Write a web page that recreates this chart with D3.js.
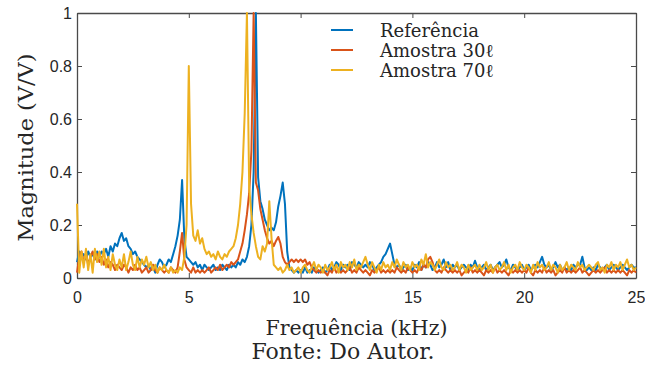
<!DOCTYPE html>
<html>
<head>
<meta charset="utf-8">
<script src="https://cdn.jsdelivr.net/npm/d3@7"></script>
<style>
  body { margin: 0; background: #fff; }
  .tick text { font-family: "Liberation Sans", Arial, sans-serif; font-size: 16px; fill: #262626; }
  .serif { font-family: "DejaVu Serif", serif; fill: #262626; }
</style>
</head>
<body>
<svg id="chart"></svg>
<script>
// spectrum sampled every 0.1 kHz, 0 .. 25 kHz
const freqStep = 0.1;

const seriesNames = ["Referência", "Amostra 30ℓ", "Amostra 70ℓ"];

const referencia = [
  0.06, 0.10, 0.08, 0.09, 0.07, 0.10, 0.08, 0.09, 0.07, 0.10,
  0.08, 0.10, 0.09, 0.11, 0.08, 0.12, 0.10, 0.13, 0.12, 0.15,
  0.17, 0.14, 0.15, 0.12, 0.11, 0.09, 0.10, 0.08, 0.07, 0.06,
  0.05, 0.04, 0.05, 0.03, 0.04, 0.02, 0.05, 0.07, 0.06, 0.04,
  0.05, 0.07, 0.06, 0.09, 0.12, 0.16, 0.22, 0.37, 0.15, 0.08,
  0.07, 0.06, 0.05, 0.06, 0.04, 0.05, 0.03, 0.05, 0.04, 0.03,
  0.04, 0.05, 0.03, 0.04, 0.03, 0.05, 0.04, 0.03, 0.05, 0.04,
  0.05, 0.04, 0.06, 0.05, 0.07, 0.06, 0.08, 0.12, 0.20, 0.40,
  1.00, 0.38, 0.29, 0.26, 0.22, 0.20, 0.18, 0.19, 0.18, 0.21,
  0.27, 0.31, 0.36, 0.28, 0.10, 0.04, 0.03, 0.02, 0.03, 0.02,
  0.03, 0.02, 0.04, 0.02, 0.03, 0.02, 0.04, 0.03, 0.02, 0.03,
  0.04, 0.02, 0.03, 0.05, 0.03, 0.04, 0.06, 0.05, 0.03, 0.05,
  0.04, 0.05, 0.03, 0.06, 0.05, 0.04, 0.06, 0.05, 0.04, 0.05,
  0.04, 0.06, 0.05, 0.03, 0.04, 0.05, 0.06, 0.08, 0.09, 0.11,
  0.13, 0.09, 0.05, 0.04, 0.05, 0.03, 0.04, 0.05, 0.03, 0.04,
  0.03, 0.05, 0.04, 0.06, 0.03, 0.05, 0.04, 0.06, 0.05, 0.03,
  0.04, 0.06, 0.04, 0.05, 0.07, 0.04, 0.06, 0.03, 0.05, 0.04,
  0.05, 0.03, 0.04, 0.05, 0.04, 0.03, 0.05, 0.04, 0.065, 0.04,
  0.03, 0.04, 0.05, 0.03, 0.04, 0.05, 0.03, 0.04, 0.05, 0.06,
  0.04, 0.05, 0.07, 0.04, 0.03, 0.05, 0.04, 0.03, 0.04, 0.05,
  0.03, 0.04, 0.05, 0.03, 0.04, 0.05, 0.04, 0.06, 0.08, 0.05,
  0.04, 0.05, 0.03, 0.04, 0.06, 0.04, 0.05, 0.03, 0.04, 0.03,
  0.04, 0.03, 0.05, 0.04, 0.05, 0.05, 0.08, 0.04, 0.03, 0.04,
  0.03, 0.04, 0.03, 0.05, 0.04, 0.03, 0.04, 0.05, 0.03, 0.04,
  0.05, 0.04, 0.03, 0.04, 0.05, 0.04, 0.03, 0.04, 0.05, 0.04,
  0.04
];

const amostra30 = [
  0.02, 0.08, 0.10, 0.06, 0.09, 0.05, 0.08, 0.10, 0.07, 0.09,
  0.06, 0.08, 0.05, 0.07, 0.04, 0.06, 0.05, 0.03, 0.05, 0.04,
  0.03, 0.05, 0.04, 0.02, 0.04, 0.03, 0.05, 0.03, 0.04, 0.02,
  0.03, 0.04, 0.02, 0.03, 0.05, 0.03, 0.02, 0.04, 0.03, 0.02,
  0.03, 0.02, 0.04, 0.03, 0.02, 0.04, 0.10, 0.17, 0.07, 0.04,
  0.03, 0.02, 0.04, 0.02, 0.03, 0.02, 0.03, 0.02, 0.03, 0.04,
  0.02, 0.03, 0.04, 0.03, 0.05, 0.03, 0.04, 0.05, 0.04, 0.06,
  0.05, 0.06, 0.07, 0.10, 0.13, 0.18, 0.24, 0.32, 0.48, 1.00,
  0.36, 0.33, 0.26, 0.22, 0.18, 0.15, 0.13, 0.14, 0.12, 0.14,
  0.155, 0.13, 0.08, 0.06, 0.05, 0.06, 0.07, 0.06, 0.07, 0.06,
  0.07, 0.06, 0.07, 0.05, 0.06, 0.04, 0.03, 0.02, 0.03, 0.02,
  0.03, 0.02, 0.01, 0.03, 0.02, 0.04, 0.02, 0.03, 0.02, 0.03,
  0.02, 0.03, 0.04, 0.02, 0.03, 0.02, 0.04, 0.03, 0.02, 0.03,
  0.02, 0.01, 0.03, 0.02, 0.03, 0.04, 0.02, 0.03, 0.02, 0.03,
  0.02, 0.03, 0.02, 0.04, 0.03, 0.02, 0.03, 0.02, 0.04, 0.03,
  0.02, 0.03, 0.02, 0.04, 0.03, 0.05, 0.04, 0.07, 0.08, 0.06,
  0.03, 0.02, 0.03, 0.02, 0.04, 0.03, 0.02, 0.03, 0.02, 0.03,
  0.02, 0.03, 0.01, 0.02, 0.03, 0.02, 0.04, 0.02, 0.03, 0.02,
  0.03, 0.02, 0.01, 0.03, 0.02, 0.03, 0.02, 0.04, 0.02, 0.03,
  0.02, 0.03, 0.02, 0.01, 0.03, 0.02, 0.03, 0.02, 0.03, 0.02,
  0.03, 0.02, 0.04, 0.02, 0.01, 0.03, 0.02, 0.03, 0.02, 0.04,
  0.02, 0.03, 0.02, 0.03, 0.01, 0.02, 0.03, 0.02, 0.04, 0.02,
  0.03, 0.02, 0.03, 0.02, 0.03, 0.04, 0.02, 0.03, 0.02, 0.01,
  0.02, 0.03, 0.02, 0.03, 0.02, 0.03, 0.04, 0.02, 0.03, 0.02,
  0.03, 0.02, 0.03, 0.02, 0.03, 0.02, 0.01, 0.03, 0.02, 0.03,
  0.02
];

const amostra70 = [
  0.28, 0.02, 0.10, 0.04, 0.11, 0.03, 0.09, 0.02, 0.11, 0.06,
  0.10, 0.05, 0.11, 0.04, 0.08, 0.03, 0.09, 0.05, 0.03, 0.07,
  0.04, 0.09, 0.03, 0.06, 0.10, 0.05, 0.03, 0.08, 0.04, 0.07,
  0.05, 0.08, 0.04, 0.06, 0.03, 0.05, 0.02, 0.04, 0.03, 0.05,
  0.03, 0.02, 0.04, 0.02, 0.03, 0.02, 0.04, 0.03, 0.08, 0.20,
  0.80, 0.28, 0.16, 0.14, 0.18, 0.13, 0.15, 0.11, 0.09, 0.10,
  0.08, 0.09, 0.07, 0.10, 0.08, 0.07, 0.09, 0.08, 0.10, 0.11,
  0.12, 0.15, 0.20, 0.28, 0.40, 0.62, 1.00, 0.34, 0.24, 0.17,
  0.12, 0.08, 0.07, 0.12, 0.10, 0.13, 0.29, 0.15, 0.05, 0.04,
  0.03, 0.04, 0.02, 0.03, 0.05, 0.03, 0.04, 0.02, 0.03, 0.04,
  0.02, 0.04, 0.05, 0.03, 0.02, 0.04, 0.06, 0.03, 0.05, 0.04,
  0.02, 0.05, 0.03, 0.04, 0.06, 0.03, 0.05, 0.02, 0.06, 0.04,
  0.05, 0.03, 0.06, 0.04, 0.07, 0.03, 0.05, 0.04, 0.06, 0.08,
  0.05, 0.03, 0.06, 0.04, 0.02, 0.05, 0.03, 0.06, 0.04, 0.05,
  0.03, 0.06, 0.04, 0.07, 0.05, 0.03, 0.06, 0.04, 0.05, 0.03,
  0.06, 0.04, 0.05, 0.03, 0.07, 0.05, 0.09, 0.04, 0.06, 0.05,
  0.03, 0.05, 0.07, 0.04, 0.03, 0.06, 0.04, 0.05, 0.03, 0.04,
  0.06, 0.03, 0.05, 0.04, 0.02, 0.05, 0.03, 0.04, 0.05, 0.03,
  0.05, 0.03, 0.04, 0.06, 0.03, 0.05, 0.02, 0.04, 0.05, 0.03,
  0.04, 0.06, 0.03, 0.05, 0.02, 0.04, 0.05, 0.03, 0.06, 0.04,
  0.03, 0.05, 0.04, 0.02, 0.05, 0.03, 0.06, 0.04, 0.05, 0.03,
  0.04, 0.06, 0.03, 0.05, 0.04, 0.02, 0.05, 0.03, 0.04, 0.06,
  0.03, 0.05, 0.04, 0.03, 0.06, 0.04, 0.05, 0.03, 0.04, 0.05,
  0.04, 0.03, 0.05, 0.06, 0.03, 0.04, 0.02, 0.05, 0.04, 0.06,
  0.03, 0.05, 0.04, 0.06, 0.03, 0.05, 0.07, 0.04, 0.05, 0.03,
  0.04
];

const xTicks = [0, 5, 10, 15, 20, 25];
const yTicks = [0, 0.2, 0.4, 0.6, 0.8, 1];
const colors = ["#0072BD", "#D95319", "#EDB120"];

const width = 645, height = 367;
const margin = { top: 13, right: 9, bottom: 89, left: 77 };
const innerW = width - margin.left - margin.right;
const innerH = height - margin.top - margin.bottom;

const svg = d3.select("#chart").attr("width", width).attr("height", height);

svg.append("defs").append("clipPath").attr("id", "plot-clip")
  .append("rect").attr("x", -1).attr("y", -1).attr("width", innerW + 2).attr("height", innerH + 2);

const chart = svg.append("g")
  .attr("transform", `translate(${margin.left},${margin.top})`);

const x = d3.scaleLinear().domain([0, 25]).range([0, innerW]);
const y = d3.scaleLinear().domain([0, 1]).range([innerH, 0]);

// axes, ticks pointing inward, box on all four sides
const axisColor = "#4a4a4a";
const styleAxis = g => {
  g.select(".domain").attr("stroke", axisColor).attr("stroke-width", 1.3);
  g.selectAll(".tick line").attr("stroke", axisColor).attr("stroke-width", 1);
};

chart.append("g")
  .attr("transform", `translate(0,${innerH})`)
  .call(d3.axisBottom(x).tickValues(xTicks).tickSize(-5).tickSizeOuter(0).tickPadding(14).tickFormat(d3.format("d")))
  .call(styleAxis)
  .call(g => g.selectAll(".tick text").attr("font-family", null).attr("font-size", null));

chart.append("g")
  .call(d3.axisLeft(y).tickValues(yTicks).tickSize(-5).tickSizeOuter(0).tickPadding(5).tickFormat(d3.format("~g")))
  .call(styleAxis)
  .call(g => g.selectAll(".tick text").attr("font-family", null).attr("font-size", null));

chart.append("g")
  .call(d3.axisTop(x).tickValues(xTicks).tickSize(-5).tickSizeOuter(0).tickFormat(""))
  .call(styleAxis);

chart.append("g")
  .attr("transform", `translate(${innerW},0)`)
  .call(d3.axisRight(y).tickValues(yTicks).tickSize(-5).tickSizeOuter(0).tickFormat(""))
  .call(styleAxis);

// spectra
const line = d3.line()
  .x((d, i) => x(i * freqStep))
  .y(d => y(d));

const plot = chart.append("g").attr("clip-path", "url(#plot-clip)");
[referencia, amostra30, amostra70].forEach((s, k) => {
  plot.append("path")
    .datum(s)
    .attr("fill", "none")
    .attr("stroke", colors[k])
    .attr("stroke-width", 2)
    .attr("stroke-linejoin", "round")
    .attr("d", line);
});

// legend
const legend = svg.append("g");
seriesNames.forEach((name, k) => {
  const ly = 30 + k * 20;
  legend.append("line")
    .attr("x1", 331).attr("x2", 353).attr("y1", ly).attr("y2", ly)
    .attr("stroke", colors[k]).attr("stroke-width", 2);
  legend.append("text")
    .attr("class", "serif")
    .attr("x", 380).attr("y", ly + 7)
    .attr("font-size", 18)
    .text(name);
});

// axis titles and source note
svg.append("text")
  .attr("class", "serif")
  .attr("x", margin.left + innerW / 2).attr("y", 335)
  .attr("text-anchor", "middle")
  .attr("font-size", 20)
  .attr("textLength", 182).attr("lengthAdjust", "spacingAndGlyphs")
  .text("Frequência (kHz)");

svg.append("text")
  .attr("class", "serif")
  .attr("transform", `translate(33,${margin.top + innerH / 2 + 2}) rotate(-90)`)
  .attr("text-anchor", "middle")
  .attr("font-size", 20)
  .attr("textLength", 188).attr("lengthAdjust", "spacingAndGlyphs")
  .text("Magnitude (V/V)");

svg.append("text")
  .attr("class", "serif")
  .attr("x", 343).attr("y", 359)
  .attr("text-anchor", "middle")
  .attr("font-size", 22)
  .text("Fonte: Do Autor.");
</script>
</body>
</html>
